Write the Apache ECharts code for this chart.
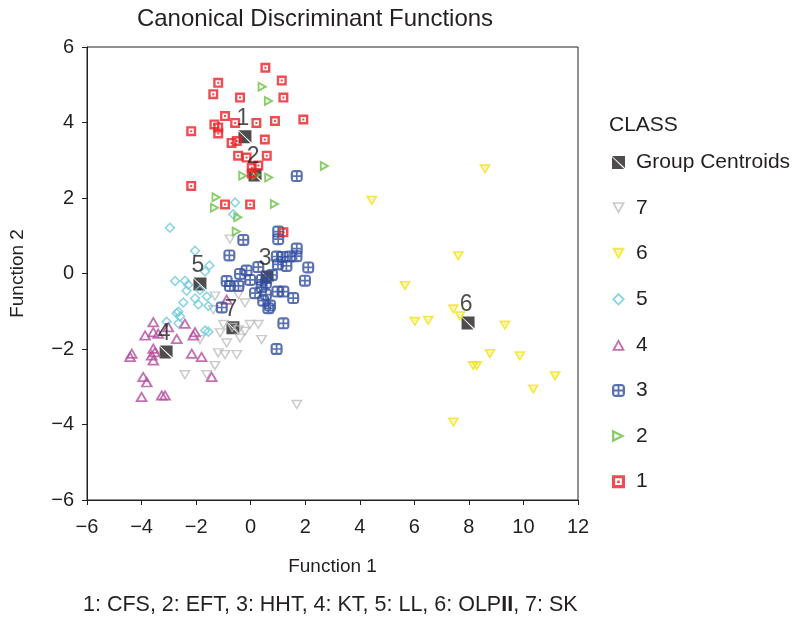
<!DOCTYPE html>
<html>
<head>
<meta charset="utf-8">
<script src="https://cdn.jsdelivr.net/npm/echarts@6/dist/echarts.min.js"></script>
<style>
  html, body { margin: 0; padding: 0; background: #fff; }
  #chart { width: 796px; height: 617px; }
</style>
</head>
<body>
<div id="chart"></div>
<script>
// values (Function 1, Function 2)
const centroidNames = ['1', '2', '3', '4', '5', '6', '7'];
const centroidX = [-0.21, 0.16, 0.6, -3.1, -1.86, 7.97, -0.65];
const centroidY = [3.62, 2.61, -0.09, -2.08, -0.28, -1.31, -1.44];

const class1 = [[0.54,5.45],[-1.19,5.05],[1.14,5.11],[-1.37,4.75],[-0.39,4.66],[1.2,4.66],[-0.94,4.17],[-1.33,3.95],
  [-1.19,3.87],[-1.19,3.71],[-0.57,3.99],[0.21,3.99],[0.89,4.04],[1.93,4.08],[-2.18,3.77],[0.52,3.55],[-0.7,3.46],
  [-0.51,3.51],[-0.46,3.12],[-0.15,3.07],[0.59,3.12],[0.04,2.8],[0.28,2.86],[0.04,2.65],[-2.18,2.32],[-0.94,1.83],
  [-0.02,1.83],[1.2,1.09]];
const class2 = [[0.44,4.95],[0.67,4.57],[2.72,2.85],[-0.27,2.59],[0.22,2.61],[0.68,2.54],[-1.25,2.02],[-1.31,1.74],
  [0.89,1.84],[-0.45,1.49],[-0.51,1.11]];
const class3 = [[1.69,2.58],[1.01,1.11],[1.01,0.91],[-0.27,0.89],[1.69,0.66],[-0.78,0.48],[0.96,0.45],[1.18,0.44],
  [1.44,0.45],[1.68,0.46],[2.11,0.16],[0.28,0.17],[1.0,0.24],[-0.15,0.08],[-0.39,-0.01],[-0.88,-0.2],[-0.76,-0.33],
  [-0.45,-0.33],[0.41,-0.17],[1.99,-0.19],[0.16,-0.52],[0.56,-0.56],[0.98,-0.48],[1.2,-0.48],[0.4,-0.36],[1.56,-0.65],
  [0.46,-0.72],[0.71,-0.85],[-1.06,-0.9],[1.2,-1.32],[0.95,-2.0],[1.31,0.2],[0.65,-0.92],[-0.02,-0.17],[0.78,-0.04],
  [0.56,-0.25]];
const class4 = [[-3.57,-1.28],[-3.87,-1.63],[-3.57,-1.54],[-3.39,-1.58],[-3.02,-1.41],[-2.41,-1.32],[-2.71,-1.72],
  [-2.04,-1.54],[-2.1,-1.63],[-4.36,-2.11],[-4.42,-2.2],[-3.57,-1.98],[-3.51,-2.07],[-3.63,-2.16],[-3.57,-2.29],
  [-2.16,-2.11],[-1.8,-2.2],[-3.94,-2.73],[-3.81,-2.87],[-4.0,-3.26],[-3.26,-3.22],[-3.14,-3.22],[-1.43,-2.73],
  [-0.88,-0.68]];
const class5 = [[-2.96,1.21],[-0.57,1.88],[-0.64,1.57],[-2.04,0.6],[-1.51,0.21],[-1.67,0.05],[-2.77,-0.2],[-2.41,-0.19],
  [-2.29,-0.3],[-1.86,-0.44],[-2.35,-0.46],[-2.04,-0.66],[-1.61,-0.61],[-2.47,-0.77],[-1.92,-0.82],[-1.55,-0.86],
  [-2.65,-1.01],[-2.71,-1.05],[-2.59,-1.14],[-3.08,-1.28],[-2.65,-1.32],[-1.67,-1.51],[-1.55,-1.54]];
const class6 = [[8.59,2.76],[4.44,1.93],[7.61,0.46],[5.66,-0.33],[7.43,-0.95],[7.67,-1.13],[6.02,-1.28],[6.51,-1.25],
  [9.32,-1.38],[8.77,-2.13],[9.87,-2.19],[8.16,-2.45],[8.29,-2.45],[11.16,-2.72],[10.36,-3.07],[7.43,-3.95]];
const class7 = [[-0.76,0.9],[-0.33,-0.33],[-1.31,-0.61],[-0.45,-0.57],[-0.21,-0.79],[-1.37,-0.97],[-1.0,-1.36],
  [-0.02,-1.36],[0.28,-1.36],[-0.21,-1.54],[-0.45,-1.5],[-1.12,-1.58],[0.4,-1.76],[-0.88,-1.85],[-0.39,-1.72],
  [-1.86,-1.76],[-1.19,-2.11],[-0.94,-2.16],[-0.51,-2.16],[-1.31,-2.45],[-1.61,-2.69],[-2.41,-2.69],[1.69,-3.48],
  [-0.68,-1.44]];

const xTicks = [-6, 12, 2];
const yTicks = [-6, 6, 2];

const FONT = 'Liberation Sans, Arial, sans-serif';
const INK = '#231f20';

// hollow glyphs: outer shape, hole wound the other way
const SYM = {
  centroid: 'path://M0,0 H10 V9.3 Z M0,0.7 L9.3,10 H0 Z',
  sq: 'path://M0,0 H10 V10 H0 Z M2.4,2.4 V7.6 H7.6 V2.4 Z M4,4 H6 V6 H4 Z',
  right: 'path://M0,0 L10,5 L0,10 Z M1.8,2.9 L1.8,7.1 L6,5 Z',
  cross: 'path://M3,0 H7 Q10,0 10,3 V7 Q10,10 7,10 H3 Q0,10 0,7 V3 Q0,0 3,0 Z M1.8,1.8 V4.3 H4.3 V1.8 Z M5.7,1.8 V4.3 H8.2 V1.8 Z M1.8,5.7 V8.2 H4.3 V5.7 Z M5.7,5.7 V8.2 H8.2 V5.7 Z',
  up: 'path://M5,0 L10,9 L0,9 Z M5,2.9 L2.5,7.6 L7.5,7.6 Z',
  diamond: 'path://M5,0 L10,5 L5,10 L0,5 Z M5,2 L2,5 L5,8 L8,5 Z',
  downDot: 'path://M0,0 L10,0 L5,9 Z M2.8,1.7 L5,5.7 L7.2,1.7 Z M4.4,2.5 H5.6 V3.7 H4.4 Z',
  down: 'path://M0,0 L10,0 L5,9 Z M2.2,1.2 L5,6.4 L7.8,1.2 Z'
};

const centroidData = centroidNames.map((n, i) => ({ name: n, value: [centroidX[i], centroidY[i]] }));

const classes = [
  { name: '7', data: class7, color: '#bdbdbd', symbol: SYM.down, size: [12, 10] },
  { name: '6', data: class6, color: '#f2e21c', symbol: SYM.downDot, size: [12, 10] },
  { name: '5', data: class5, color: '#6dcbdb', symbol: SYM.diamond, size: [11, 11] },
  { name: '4', data: class4, color: '#b44d9f', symbol: SYM.up, size: [13, 11] },
  { name: '3', data: class3, color: '#2f4c9e', symbol: SYM.cross, size: [12, 12] },
  { name: '2', data: class2, color: '#6cbf45', symbol: SYM.right, size: [10, 11] },
  { name: '1', data: class1, color: '#ec1f26', symbol: SYM.sq, size: [10, 10] }
];

const minus = v => String(v).replace('-', '\u2212');

const series = [{
  name: 'Group Centroids',
  type: 'scatter',
  data: centroidData,
  symbol: SYM.centroid,
  symbolSize: 13,
  itemStyle: { color: INK },
  label: {
    show: true, position: 'top', distance: 0, offset: [-2, 0],
    formatter: p => p.name, fontFamily: FONT, fontSize: 23, color: INK
  }
}].concat(classes.map(c => ({
  name: c.name,
  type: 'scatter',
  data: c.data,
  symbol: c.symbol,
  symbolSize: c.size,
  itemStyle: { color: c.color }
})));

const chart = echarts.init(document.getElementById('chart'));
chart.setOption({
  backgroundColor: '#fff',
  animation: false,
  textStyle: { fontFamily: FONT },
  grid: {
    left: 87, top: 47, right: 218, bottom: 117,
    show: true, borderColor: INK, borderWidth: 1
  },
  xAxis: {
    type: 'value', min: xTicks[0], max: xTicks[1], interval: xTicks[2],
    name: 'Function 1', nameLocation: 'middle', nameGap: 57,
    nameTextStyle: { fontSize: 19, color: INK, fontFamily: FONT },
    axisLine: { show: true, onZero: false, lineStyle: { color: INK, width: 1 } },
    axisTick: { show: true, inside: false, length: 5, lineStyle: { color: INK } },
    axisLabel: { fontSize: 20, color: INK, margin: 17, formatter: minus },
    splitLine: { show: false }
  },
  yAxis: {
    type: 'value', min: yTicks[0], max: yTicks[1], interval: yTicks[2],
    name: 'Function 2', nameLocation: 'middle', nameGap: 60,
    nameTextStyle: { fontSize: 19, color: INK, fontFamily: FONT },
    axisLine: { show: true, onZero: false, lineStyle: { color: INK, width: 1 } },
    axisTick: { show: true, inside: false, length: 5, lineStyle: { color: INK } },
    axisLabel: { fontSize: 20, color: INK, margin: 13, formatter: minus },
    splitLine: { show: false }
  },
  legend: {
    orient: 'vertical', left: 607, top: 147,
    itemWidth: 13, itemHeight: 13, itemGap: 24.6,
    textStyle: { fontSize: 21, color: INK, fontFamily: FONT, padding: [0, 0, 0, 6] },
    data: ['Group Centroids', '7', '6', '5', '4', '3', '2', '1']
  },
  graphic: [
    { type: 'text', x: 315, y: 19,
      style: { text: 'Canonical Discriminant Functions', font: '24px ' + FONT, fill: INK,
        align: 'center', verticalAlign: 'middle' } },
    { type: 'text', x: 609, y: 125,
      style: { text: 'CLASS', font: '21px ' + FONT, fill: INK, verticalAlign: 'middle' } },
    { type: 'text', x: 83, y: 605,
      style: { text: '1: CFS, 2: EFT, 3: HHT, 4: KT, 5: LL, 6: OLP{b|II}, 7: SK', font: '21.5px ' + FONT, fill: INK,
        verticalAlign: 'middle',
        rich: { b: { font: 'bold 21.5px ' + FONT, fill: INK } } } }
  ],
  series: series
});
</script>
</body>
</html>
